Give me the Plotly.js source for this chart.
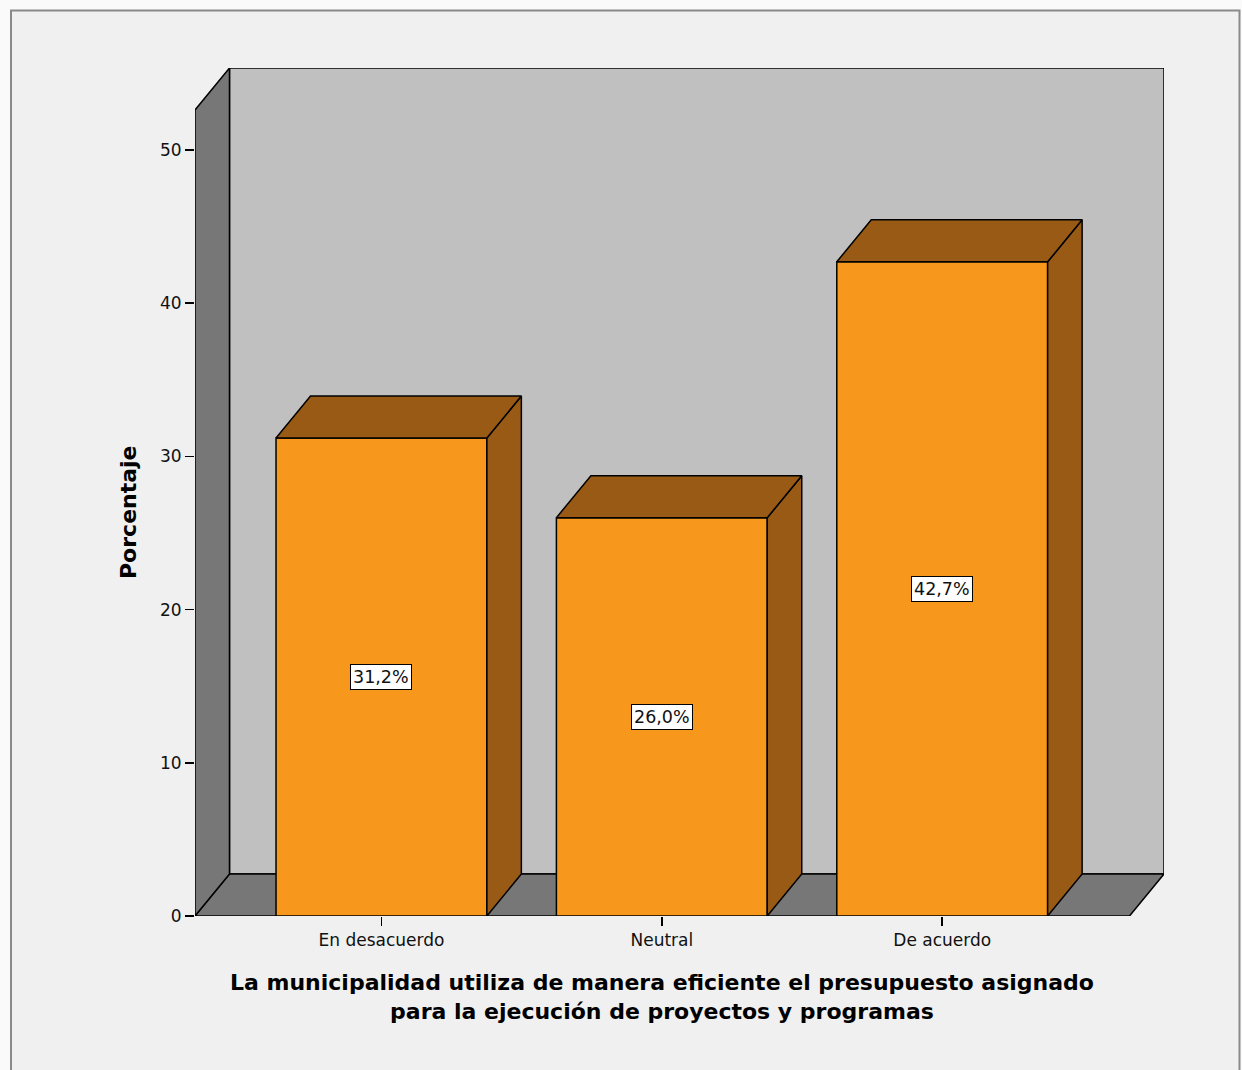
<!DOCTYPE html>
<html>
<head>
<meta charset="utf-8">
<script src="https://cdn.plot.ly/plotly-3.0.1.min.js"></script>
<style>html,body{margin:0;padding:0;background:#fafafa;}#chart{width:1242px;height:1070px;}</style>
</head>
<body>
<div id="chart"></div>
<script>
// ---- data ----
const categories = ["En desacuerdo", "Neutral", "De acuerdo"];
const percentages = [31.2, 26.0, 42.7];
const valueLabels = ["31,2%", "26,0%", "42,7%"];
const yTickVals = [0, 10, 20, 30, 40, 50];
const yTitle = "Porcentaje";
const xTitle = "La municipalidad utiliza de manera eficiente el presupuesto asignado<br>para la ejecución de proyectos y programas";

// ---- geometry (in axis units) ----
const xMin = -0.665, xMax = 2.668;   // front floor extent
const yTop = 52.61;                  // front top of left wall
const dx = 0.123, dy = 2.74;         // 3D depth offset
const barW = 0.752;

const ORANGE = "#f7981d", BROWN = "#985a14", WALL = "#c0c0c0", SIDE = "#777777";
const LW = 1.5;
const TICKFONT = "DejaVu Sans, sans-serif";

const traces = [];
// bar fronts
traces.push({
  type: "bar", x: categories.map((c, i) => i), y: percentages, width: barW,
  marker: {color: ORANGE, line: {color: "#000", width: LW}},
  hoverinfo: "skip", showlegend: false
});
// top & side faces
percentages.forEach((v, i) => {
  const L = i - barW / 2, R = i + barW / 2;
  traces.push({
    type: "scatter", mode: "lines", fill: "toself", fillcolor: BROWN,
    x: [R, R, R + dx, R + dx, R], y: [0, v, v + dy, dy, 0],
    line: {color: "#000", width: LW}, hoverinfo: "skip", showlegend: false
  });
  traces.push({
    type: "scatter", mode: "lines", fill: "toself", fillcolor: BROWN,
    x: [L, L + dx, R + dx, R, L], y: [v, v + dy, v + dy, v, v],
    line: {color: "#000", width: LW}, hoverinfo: "skip", showlegend: false
  });
});

const annotations = percentages.map((v, i) => ({
  x: i, y: v / 2, xref: "x", yref: "y", text: valueLabels[i], showarrow: false,
  bgcolor: "#ffffff", bordercolor: "#000", borderwidth: 1, borderpad: 2,
  font: {family: TICKFONT, size: 17.5, color: "#111"}
}));
annotations.push({
  xref: "paper", yref: "paper", x: (128 - 195) / 969, y: (916 - 512) / 848,
  text: "<b>" + yTitle + "</b>", textangle: -90, showarrow: false,
  xanchor: "center", yanchor: "middle",
  font: {family: "DejaVu Sans, sans-serif", size: 22, color: "#000"}
});
annotations.push({
  xref: "paper", yref: "paper", x: (662 - 195) / 969, y: (916 - 996.5) / 848,
  text: "<b>" + xTitle + "</b>", showarrow: false,
  xanchor: "center", yanchor: "middle",
  font: {family: "DejaVu Sans, sans-serif", size: 22, color: "#000"}
});

const shapes = [
  // outer frame
  {type: "rect", xref: "paper", yref: "paper", layer: "below",
   x0: (11 - 195) / 969, x1: (1239.5 - 195) / 969, y0: -0.2, y1: (916 - 10.5) / 848,
   fillcolor: "#f0f0f0", line: {color: "#8a8a8a", width: 2}},
  // back wall
  {type: "rect", xref: "x", yref: "y", layer: "below",
   x0: xMin + dx, x1: xMax + dx, y0: dy, y1: yTop + dy,
   fillcolor: WALL, line: {color: "#000", width: LW}},
  // floor
  {type: "path", xref: "x", yref: "y", layer: "below",
   path: `M${xMin},0 L${xMin + dx},${dy} L${xMax + dx},${dy} L${xMax},0 Z`,
   fillcolor: SIDE, line: {color: "#000", width: LW}},
  // left wall
  {type: "path", xref: "x", yref: "y", layer: "below",
   path: `M${xMin},0 L${xMin},${yTop} L${xMin + dx},${yTop + dy} L${xMin + dx},${dy} Z`,
   fillcolor: SIDE, line: {color: "#000", width: LW}}
];

const layout = {
  width: 1242, height: 1070,
  margin: {l: 195, r: 78, t: 68, b: 154, pad: 0},
  paper_bgcolor: "#fafafa", plot_bgcolor: "rgba(0,0,0,0)",
  showlegend: false,
  xaxis: {
    range: [xMin, xMax + dx], tickvals: [0, 1, 2], ticktext: categories,
    ticks: "outside", ticklen: 9, tickwidth: 1.5, tickcolor: "#000",
    showgrid: false, zeroline: false, showline: false, fixedrange: true,
    tickfont: {family: TICKFONT, size: 17, color: "#111"}
  },
  yaxis: {
    range: [0, yTop + dy], tickvals: yTickVals,
    ticks: "outside", ticklen: 9, tickwidth: 1.5, tickcolor: "#000",
    showgrid: false, zeroline: false, showline: false, fixedrange: true,
    tickfont: {family: TICKFONT, size: 17, color: "#111"}
  },
  shapes: shapes,
  annotations: annotations
};

Plotly.newPlot("chart", traces, layout, {displayModeBar: false, staticPlot: true});
</script>
</body>
</html>
